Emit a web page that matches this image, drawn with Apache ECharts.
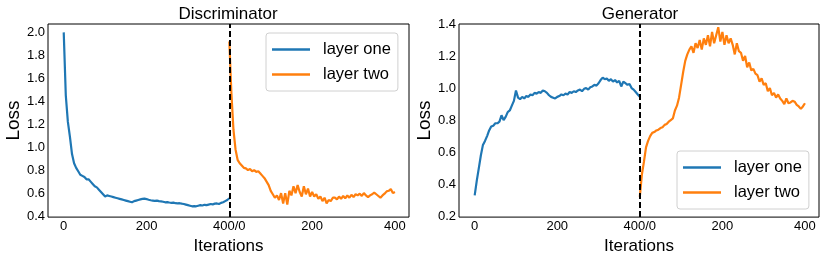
<!DOCTYPE html>
<html><head><meta charset="utf-8">
<script src="https://cdn.jsdelivr.net/npm/echarts@6/dist/echarts.min.js"></script>
<style>html,body{margin:0;padding:0;background:#fff}#c{width:830px;height:260px}</style>
</head><body><div id="c"></div>
<script>
// iterations within each training stage (step 5)
const iters = [0,5,10,15,20,25,30,35,40,45,50,55,60,65,70,75,80,85,90,95,100,105,110,115,120,125,130,135,140,145,150,155,160,165,170,175,180,185,190,195,200,205,210,215,220,225,230,235,240,245,250,255,260,265,270,275,280,285,290,295,300,305,310,315,320,325,330,335,340,345,350,355,360,365,370,375,380,385,390,395,400];
const stageOffset = [0, 400];
const xTickValues = [0,200,400,600,800];
const xTickLabels = ['0','200','400/0','200','400'];
const discTicks = [0.4,0.6,0.8,1.0,1.2,1.4,1.6,1.8,2.0];
const genTicks = [0.2,0.4,0.6,0.8,1.0,1.2,1.4];
const seriesNames = ['layer one','layer two'];
const titles = ['Discriminator','Generator'];

const discLayerOne = [2.00,1.45,1.22,1.09,0.94,0.86,0.82,0.79,0.76,0.75,0.74,0.72,0.72,0.70,0.68,0.66,0.65,0.63,0.61,0.59,0.57,0.58,0.575,0.57,0.565,0.56,0.555,0.55,0.545,0.54,0.535,0.53,0.525,0.52,0.53,0.535,0.54,0.545,0.55,0.552,0.548,0.542,0.538,0.535,0.532,0.535,0.53,0.528,0.525,0.52,0.522,0.518,0.515,0.517,0.512,0.51,0.512,0.508,0.505,0.50,0.495,0.49,0.485,0.487,0.485,0.49,0.495,0.492,0.498,0.495,0.50,0.505,0.502,0.508,0.51,0.505,0.515,0.52,0.53,0.54,0.555];
const discLayerTwo = [1.92,1.47,1.15,0.98,0.89,0.86,0.84,0.82,0.815,0.80,0.81,0.79,0.80,0.785,0.79,0.77,0.75,0.73,0.70,0.67,0.62,0.59,0.56,0.58,0.54,0.60,0.51,0.60,0.50,0.62,0.58,0.66,0.60,0.67,0.61,0.57,0.66,0.59,0.64,0.57,0.61,0.57,0.59,0.55,0.57,0.53,0.56,0.51,0.54,0.53,0.56,0.56,0.545,0.57,0.55,0.575,0.555,0.58,0.56,0.585,0.565,0.59,0.58,0.595,0.575,0.60,0.58,0.565,0.58,0.59,0.605,0.59,0.575,0.56,0.58,0.595,0.615,0.62,0.635,0.60,0.61];
const genLayerOne = [0.33,0.42,0.50,0.58,0.645,0.67,0.70,0.735,0.76,0.765,0.78,0.78,0.79,0.83,0.80,0.82,0.85,0.86,0.89,0.92,0.985,0.94,0.93,0.945,0.935,0.95,0.945,0.96,0.955,0.97,0.965,0.975,0.97,0.985,0.98,0.97,0.955,0.945,0.94,0.935,0.945,0.95,0.96,0.955,0.965,0.96,0.975,0.97,0.98,0.975,0.985,0.99,0.98,0.995,1.00,0.99,1.005,1.01,1.02,1.015,1.03,1.05,1.065,1.055,1.06,1.045,1.055,1.04,1.05,1.035,1.045,1.01,1.04,1.03,1.02,1.025,1.00,0.99,0.975,0.96,0.945];
const genLayerTwo = [0.32,0.46,0.54,0.63,0.67,0.70,0.72,0.725,0.735,0.74,0.75,0.755,0.77,0.775,0.79,0.80,0.81,0.86,0.89,0.94,1.02,1.10,1.17,1.21,1.24,1.26,1.22,1.28,1.25,1.30,1.24,1.31,1.27,1.33,1.26,1.35,1.28,1.33,1.38,1.29,1.35,1.27,1.33,1.28,1.31,1.27,1.21,1.28,1.23,1.22,1.17,1.20,1.13,1.16,1.11,1.12,1.09,1.08,1.04,1.06,1.02,1.03,0.98,1.00,0.955,0.97,0.94,0.96,0.935,0.92,0.90,0.935,0.905,0.91,0.92,0.915,0.895,0.885,0.87,0.885,0.905];

const FONT = 'Liberation Sans';
const colors = ['#1f77b4','#ff7f0e'];
const pair = (stage, vals) => iters.map((it, i) => [it + stageOffset[stage], vals[i]]);

const grids = [
  {left:48, top:24, width:361, height:194},
  {left:459, top:24, width:360, height:194}
];
const yRanges = [[0.391, 2.073],[0.194, 1.4]];
const yTicks = [discTicks, genTicks];
const data = [[discLayerOne, discLayerTwo],[genLayerOne, genLayerTwo]];

const option = {
  animation:false,
  color: colors,
  grid: grids.map(g => Object.assign({show:true, borderColor:'#000', borderWidth:1, backgroundColor:'#fff'}, g)),
  xAxis: grids.map((g, i) => ({
    type:'value', gridIndex:i, min:-38, max:834,
    name:'Iterations', nameLocation:'middle', nameGap:14,
    nameTextStyle:{fontFamily:FONT, fontSize:17, color:'#000'},
    axisLine:{show:false}, axisTick:{show:false}, splitLine:{show:false},
    axisLabel:{customValues:xTickValues, fontFamily:FONT, fontSize:13, color:'#000', margin:3,
      formatter: v => xTickLabels[xTickValues.indexOf(v)]}
  })),
  yAxis: grids.map((g, i) => ({
    type:'value', gridIndex:i, min:yRanges[i][0], max:yRanges[i][1],
    name:'Loss', nameLocation:'middle', nameGap:24,
    nameTextStyle:{fontFamily:FONT, fontSize:19, color:'#000'},
    axisLine:{show:false}, axisTick:{show:false}, splitLine:{show:false},
    axisLabel:{customValues:yTicks[i], fontFamily:FONT, fontSize:13, color:'#000', margin:3,
      formatter: v => v.toFixed(1)}
  })),
  legend: [
    {left:266, top:33},
    {left:677, top:151}
  ].map(p => Object.assign({
    orient:'vertical', data:seriesNames, icon:'rect', itemWidth:38, itemHeight:2.5, itemGap:8,
    padding:[8,7,8,6], borderColor:'#d0d0d0', borderWidth:1, borderRadius:3, backgroundColor:'rgba(255,255,255,0.8)',
    textStyle:{fontFamily:FONT, fontSize:16.5, color:'#000', lineHeight:16, padding:[0,0,0,8]},
    selectedMode:false
  }, p)),
  graphic: titles.map((t, i) => ({
    type:'text', x: i === 0 ? 228 : 640, y:14.5,
    style:{text:t, fontFamily:FONT, fontSize:17, fill:'#000', textAlign:'center', textVerticalAlign:'middle'}
  })),
  series: []
};

for (let g = 0; g < 2; g++) {
  for (let s = 0; s < 2; s++) {
    const ser = {
      type:'line', name:seriesNames[s], xAxisIndex:g, yAxisIndex:g,
      data: pair(s, data[g][s]), showSymbol:false, symbol:'none',
      lineStyle:{width:2.2, color:colors[s]}, itemStyle:{color:colors[s]}, z:2
    };
    if (s === 0) {
      ser.markLine = {
        silent:true, symbol:'none', label:{show:false},
        lineStyle:{color:'#000', type:[6,3], width:2},
        data:[{xAxis:400}]
      };
    }
    option.series.push(ser);
  }
}

const chart = echarts.init(document.getElementById('c'), null, {renderer:'canvas'});
chart.setOption(option);
</script></body></html>
